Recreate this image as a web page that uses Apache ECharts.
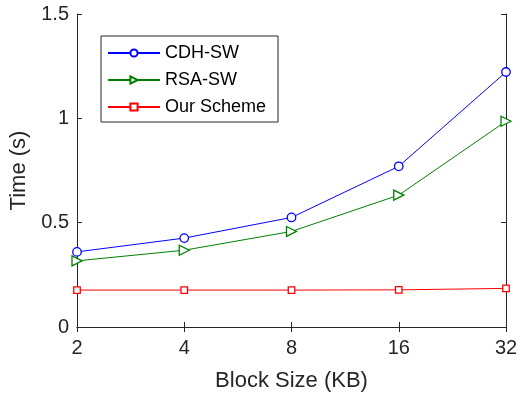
<!DOCTYPE html>
<html><head><meta charset="utf-8">
<script src="https://cdn.jsdelivr.net/npm/echarts@6/dist/echarts.min.js"></script>
<style>html,body{margin:0;padding:0;background:#fff}#c{width:528px;height:393px}</style>
</head><body><div id="c"></div>
<script>
var categories = ['2', '4', '8', '16', '32'];
var cdhSW = [0.360, 0.426, 0.525, 0.770, 1.222];
var rsaSW = [0.317, 0.368, 0.458, 0.632, 0.986];
var ourScheme = [0.177, 0.177, 0.177, 0.178, 0.185];
var yTicks = [0, 0.5, 1, 1.5];

var font = 'Liberation Sans, Arial, Helvetica, sans-serif';
var axisColor = '#262626';
var chart = echarts.init(document.getElementById('c'), null, {renderer: 'canvas'});
function lineSeries(name, data, color, symbol, size, rot) {
  return {
    name: name, type: 'line', data: data, xAxisIndex: 0, yAxisIndex: 0,
    symbol: symbol, symbolSize: size, symbolRotate: rot || 0,
    showAllSymbol: true,
    lineStyle: {color: color, width: 1},
    itemStyle: {color: '#fff', borderColor: color, borderWidth: 1.3},
    emphasis: {disabled: true}, animation: false
  };
}
var option = {
  animation: false,
  grid: {left: 77, right: 22, top: 14, bottom: 66, containLabel: false, outerBoundsMode: 'none'},
  legend: {
    orient: 'vertical', left: 101, top: 36,
    backgroundColor: '#fff', borderColor: axisColor, borderWidth: 1,
    padding: [8, 12, 6, 6], itemGap: 9, itemWidth: 52, itemHeight: 9,
    textStyle: {fontFamily: font, fontSize: 18, lineHeight: 18, color: '#000'},
    data: ['CDH-SW', 'RSA-SW', 'Our Scheme']
  },
  xAxis: [{
    type: 'category', data: categories, boundaryGap: false,
    name: 'Block Size (KB)', nameLocation: 'middle', nameGap: 43,
    nameTextStyle: {fontFamily: font, fontSize: 22, color: '#262626'},
    axisLine: {lineStyle: {color: axisColor, width: 1}},
    axisTick: {inside: true, length: 5, lineStyle: {color: axisColor}},
    axisLabel: {fontFamily: font, fontSize: 20, color: '#262626', margin: 11},
    splitLine: {show: false}
  }, {
    type: 'category', data: categories, boundaryGap: false, position: 'top',
    axisLine: {lineStyle: {color: axisColor, width: 1}},
    axisTick: {inside: true, length: 5, lineStyle: {color: axisColor}},
    axisLabel: {show: false}, splitLine: {show: false}
  }],
  yAxis: [{
    type: 'value', min: 0, max: 1.5, interval: 0.5,
    name: 'Time (s)', nameLocation: 'middle', nameGap: 41,
    nameTextStyle: {fontFamily: font, fontSize: 22, color: '#262626'},
    axisLine: {show: true, lineStyle: {color: axisColor, width: 1}},
    axisTick: {show: true, inside: true, length: 5, lineStyle: {color: axisColor}},
    axisLabel: {fontFamily: font, fontSize: 20, color: '#262626', margin: 8,
      formatter: function (v) { return yTicks.indexOf(v) >= 0 ? String(v) : ''; }},
    splitLine: {show: false}
  }, {
    type: 'value', min: 0, max: 1.5, interval: 0.5, position: 'right',
    axisLine: {show: true, lineStyle: {color: axisColor, width: 1}},
    axisTick: {show: true, inside: true, length: 5, lineStyle: {color: axisColor}},
    axisLabel: {show: false}, splitLine: {show: false}
  }],
  series: [
    lineSeries('CDH-SW', cdhSW, '#0000ff', 'circle', 8.5),
    lineSeries('RSA-SW', rsaSW, '#008000', 'triangle', 10, -90),
    lineSeries('Our Scheme', ourScheme, '#ff0000', 'rect', 6.5)
  ]
};
chart.setOption(option);
</script></body></html>
